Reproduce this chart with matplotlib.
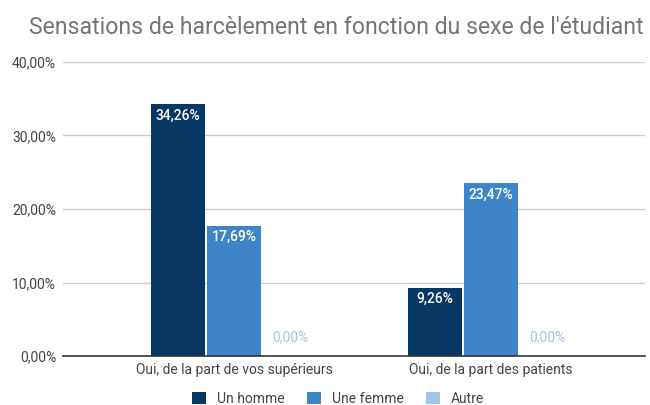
import matplotlib
matplotlib.use("Agg")
import matplotlib.pyplot as plt
import numpy as np
from matplotlib.patches import Patch

plt.rcParams['font.family'] = ['Roboto', 'DejaVu Sans']

categories = ["Oui, de la part de vos supérieurs", "Oui, de la part des patients"]
series_names = ["Un homme", "Une femme", "Autre"]
homme = [34.26, 9.26]
femme = [17.69, 23.47]
autre = [0.00, 0.00]
y_ticks = [0, 10, 20, 30, 40]
colors = ["#073763", "#3d85c6", "#9fc5e8"]

def fmt(v):
    return f"{v:.2f}".replace(".", ",") + "%"

fig = plt.figure(figsize=(6.5, 4.05), dpi=100)
ax = fig.add_axes([63/650, 1 - 356/405, (645-63)/650, (356-62)/405])

x = np.arange(len(categories))
w = 0.21
offs = [-0.218, 0, 0.218]
for vals, off, c in zip([homme, femme, autre], offs, colors):
    bars = ax.bar(x + off, vals, width=w, color=c, zorder=3)
    for b, v in zip(bars, vals):
        cx = b.get_x() + b.get_width() / 2
        if v > 3:
            ax.text(cx, v - 0.6, fmt(v), ha="center", va="top", color="white",
                    fontsize=10, fontweight="medium", zorder=4)
        else:
            ax.text(cx, v + 1.6, fmt(v), ha="center", va="bottom", color=c,
                    fontsize=10, zorder=4)

ax.set_ylim(0, 40)
ax.set_xlim((63-234)/257, (645-234)/257)
ax.set_yticks(y_ticks)
ax.set_yticklabels([fmt(t) for t in y_ticks], color="#444444", fontsize=10)
ax.set_xticks(x)
ax.set_xticklabels(categories, color="#444444", fontsize=10)
ax.tick_params(axis="both", length=0, pad=5)
ax.yaxis.grid(True, color="#cccccc", linewidth=1, zorder=0)
for s in ["top", "right", "left"]:
    ax.spines[s].set_visible(False)
ax.spines["bottom"].set_color("#333333")
ax.spines["bottom"].set_linewidth(1.2)
ax.spines["bottom"].set_zorder(5)

fig.text(336/650, 1 - 27/405, "Sensations de harcèlement en fonction du sexe de l'étudiant",
         ha="center", va="center", fontsize=16.6, color="#757575")

handles = [Patch(facecolor=c, label=n) for c, n in zip(colors, series_names)]
fig.legend(handles=handles, loc="center", bbox_to_anchor=(338/650, 1 - 399/405),
           ncol=3, frameon=False, fontsize=10, handlelength=1.0, handleheight=1.0,
           columnspacing=1.6, handletextpad=0.8, labelcolor="#444444")

fig.savefig("out.png", dpi=100)
